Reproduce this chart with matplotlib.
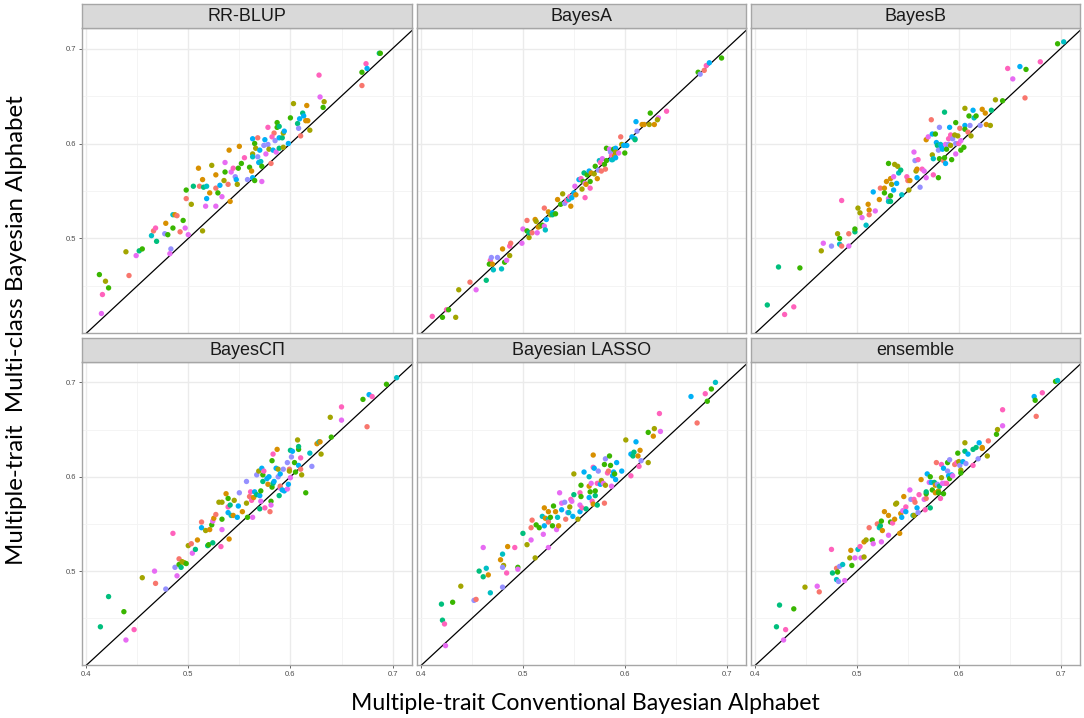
import matplotlib
matplotlib.use("Agg")
import matplotlib.pyplot as plt

# ggplot2 hue palette (10 groups), coded by letter
hue = ["#F8766D", "#D89000", "#A3A500", "#39B600", "#00BF7D",
       "#00BFC4", "#00B0F6", "#9590FF", "#E76BF3", "#FF62BC"]
codes = "roygtcbpmk"

# ---- RR-BLUP ----
rrblup_x = [0.413,0.416,0.419,0.422,0.415,0.439,0.442,0.449,0.452,0.455,
            0.464,0.466,0.468,0.469,0.477,0.478,0.480,0.485,0.485,0.487,
            0.489,0.483,0.482,0.492,0.495,0.497,0.500,0.498,0.498,0.503,
            0.505,0.510,0.511,0.514,0.515,0.518,0.518,0.517,0.514,0.521,
            0.523,0.527,0.527,0.529,0.527,0.531,0.533,0.535,0.536,0.536,
            0.540,0.539,0.541,0.542,0.544,0.546,0.547,0.548,0.549,0.552,
            0.550,0.555,0.558,0.560,0.563,0.563,0.562,0.563,0.565,0.563,
            0.566,0.565,0.568,0.568,0.569,0.570,0.571,0.572,0.572,0.575,
            0.574,0.576,0.578,0.578,0.579,0.581,0.583,0.584,0.582,0.585,
            0.586,0.587,0.587,0.589,0.589,0.589,0.592,0.593,0.594,0.593,
            0.598,0.600,0.603,0.607,0.608,0.609,0.610,0.612,0.613,0.615,
            0.616,0.617,0.619,0.628,0.629,0.633,0.632,0.670,0.670,0.674,
            0.675,0.687,0.688]
rrblup_y = [0.462,0.441,0.455,0.448,0.421,0.486,0.461,0.482,0.487,0.489,
            0.503,0.508,0.511,0.497,0.505,0.516,0.504,0.511,0.525,0.525,
            0.524,0.489,0.484,0.507,0.519,0.511,0.504,0.551,0.542,0.536,
            0.555,0.574,0.555,0.562,0.554,0.555,0.542,0.534,0.508,0.548,
            0.577,0.567,0.553,0.548,0.534,0.556,0.544,0.561,0.580,0.570,
            0.593,0.557,0.539,0.570,0.574,0.565,0.562,0.557,0.574,0.579,
            0.597,0.585,0.562,0.575,0.605,0.589,0.571,0.564,0.600,0.586,
            0.595,0.561,0.606,0.586,0.580,0.593,0.581,0.576,0.560,0.604,
            0.598,0.589,0.617,0.599,0.594,0.579,0.593,0.611,0.607,0.603,
            0.591,0.622,0.617,0.618,0.606,0.595,0.606,0.611,0.613,0.596,
            0.600,0.627,0.642,0.621,0.616,0.626,0.608,0.632,0.629,0.624,
            0.640,0.624,0.614,0.672,0.649,0.644,0.638,0.661,0.675,0.684,
            0.679,0.695,0.695]
rrblup_g = ("gkygmyrmtg" "crktpoggco" "rpmrgmmgry" "torotcbmyo" "yorgmbmymg"
            "oromkpbygg" "okpgbyobgc" "ygrpbbcgmb" "pmkpyrbrkp" "mggtbttyby"
            "bgytpbrtbo" "ooykmygrgk" "btg")

# ---- BayesA ----
bayesa_x = [0.411,0.421,0.425,0.427,0.434,0.437,0.448,0.454,0.464,0.468,
            0.469,0.467,0.470,0.471,0.475,0.479,0.480,0.482,0.484,0.487,
            0.487,0.488,0.499,0.500,0.504,0.504,0.506,0.506,0.509,0.512,
            0.513,0.514,0.515,0.517,0.519,0.521,0.522,0.521,0.523,0.525,
            0.527,0.529,0.529,0.532,0.534,0.537,0.539,0.541,0.543,0.545,
            0.547,0.546,0.548,0.550,0.551,0.552,0.558,0.561,0.555,0.557,
            0.559,0.560,0.561,0.562,0.563,0.565,0.566,0.566,0.567,0.570,
            0.571,0.573,0.574,0.575,0.576,0.577,0.578,0.580,0.581,0.582,
            0.582,0.585,0.586,0.587,0.587,0.588,0.589,0.590,0.591,0.591,
            0.591,0.594,0.596,0.597,0.599,0.600,0.602,0.607,0.610,0.610,
            0.612,0.611,0.617,0.619,0.624,0.625,0.629,0.633,0.632,0.641,
            0.672,0.674,0.678,0.680,0.683,0.695]
bayesa_y = [0.418,0.417,0.425,0.425,0.417,0.446,0.454,0.446,0.456,0.477,
            0.480,0.473,0.473,0.467,0.480,0.468,0.489,0.475,0.477,0.482,
            0.492,0.495,0.495,0.510,0.519,0.508,0.501,0.506,0.506,0.520,
            0.518,0.506,0.512,0.513,0.514,0.513,0.509,0.532,0.520,0.528,
            0.525,0.527,0.525,0.526,0.541,0.536,0.547,0.537,0.540,0.541,
            0.534,0.544,0.543,0.548,0.555,0.546,0.552,0.543,0.562,0.563,
            0.560,0.569,0.558,0.557,0.567,0.571,0.560,0.553,0.569,0.568,
            0.576,0.563,0.572,0.582,0.580,0.571,0.584,0.578,0.573,0.582,
            0.595,0.594,0.591,0.583,0.587,0.583,0.594,0.587,0.595,0.591,
            0.585,0.590,0.607,0.599,0.598,0.590,0.598,0.607,0.605,0.604,
            0.613,0.623,0.620,0.620,0.620,0.632,0.620,0.627,0.625,0.634,
            0.675,0.673,0.677,0.682,0.685,0.690]
bayesa_g = ("kgkgyyrmtk" "pgocpcogmy" "krmmrgytro" "ymoygmcrbo" "ybtgogypkc"
            "okbbmoykbk" "gtmogbgkoy" "gopckrmgrg" "gmpbkcgoby" "bmrybgbbbt"
            "pbooygomyk" "gprkbg")

# ---- BayesB ----
bayesb_x = [0.412,0.429,0.438,0.423,0.444,0.465,0.467,0.475,0.481,0.483,
            0.483,0.485,0.492,0.492,0.498,0.498,0.485,0.501,0.503,0.505,
            0.509,0.511,0.512,0.512,0.518,0.516,0.522,0.523,0.527,0.527,
            0.529,0.531,0.531,0.531,0.533,0.533,0.533,0.534,0.536,0.537,
            0.540,0.536,0.539,0.541,0.543,0.544,0.549,0.550,0.551,0.552,
            0.556,0.557,0.558,0.559,0.560,0.559,0.562,0.564,0.566,0.568,
            0.568,0.570,0.573,0.574,0.574,0.575,0.575,0.577,0.578,0.579,
            0.580,0.580,0.581,0.581,0.582,0.583,0.584,0.586,0.585,0.586,
            0.587,0.587,0.588,0.590,0.590,0.591,0.592,0.592,0.593,0.594,
            0.596,0.597,0.597,0.597,0.599,0.600,0.601,0.602,0.602,0.605,
            0.606,0.606,0.606,0.609,0.610,0.611,0.612,0.614,0.615,0.617,
            0.621,0.623,0.626,0.627,0.631,0.632,0.636,0.643,0.648,0.653,
            0.660,0.666,0.665,0.680,0.697,0.703]
bayesb_y = [0.430,0.420,0.428,0.470,0.469,0.487,0.495,0.492,0.505,0.500,
            0.494,0.492,0.492,0.505,0.507,0.510,0.540,0.532,0.527,0.522,
            0.514,0.536,0.530,0.525,0.529,0.549,0.541,0.553,0.553,0.548,
            0.560,0.579,0.542,0.539,0.539,0.545,0.563,0.557,0.565,0.578,
            0.576,0.551,0.558,0.569,0.572,0.546,0.565,0.561,0.551,0.561,
            0.591,0.582,0.571,0.573,0.583,0.564,0.554,0.573,0.571,0.604,
            0.564,0.607,0.625,0.610,0.588,0.584,0.567,0.610,0.601,0.598,
            0.564,0.593,0.584,0.617,0.599,0.597,0.594,0.633,0.582,0.585,
            0.599,0.579,0.594,0.599,0.605,0.617,0.609,0.598,0.583,0.605,
            0.609,0.622,0.589,0.600,0.608,0.600,0.616,0.593,0.603,0.596,
            0.619,0.637,0.615,0.612,0.629,0.619,0.608,0.635,0.627,0.629,
            0.619,0.636,0.632,0.620,0.619,0.635,0.646,0.645,0.679,0.668,
            0.681,0.678,0.648,0.686,0.705,0.707]
bayesb_g = ("tkktgympyg" "crmrtgkyym" "coormborog" "ogmctgoymy" "ybbctckryo"
            "mpyokbpkmo" "mmrbyckgbt" "gpgpcbbtrg" "mbgpkbkygp" "ygmpykrgmg"
            "bygrgpybcg" "poooytygkm" "bgrkgc")

# ---- BayesCPi ----
bayescpi_x = [0.414,0.422,0.439,0.447,0.437,0.455,0.467,0.468,0.478,0.485,
              0.487,0.489,0.491,0.491,0.493,0.494,0.496,0.498,0.500,0.503,
              0.504,0.507,0.509,0.513,0.513,0.517,0.519,0.520,0.521,0.523,
              0.524,0.524,0.525,0.527,0.530,0.533,0.533,0.532,0.533,0.537,
              0.539,0.539,0.539,0.540,0.541,0.542,0.544,0.545,0.548,0.550,
              0.549,0.553,0.557,0.557,0.558,0.560,0.561,0.562,0.563,0.564,
              0.565,0.567,0.567,0.569,0.570,0.570,0.571,0.571,0.572,0.573,
              0.573,0.574,0.575,0.577,0.578,0.579,0.580,0.581,0.581,0.582,
              0.583,0.582,0.583,0.584,0.586,0.587,0.588,0.588,0.589,0.590,
              0.590,0.590,0.592,0.593,0.594,0.597,0.597,0.598,0.599,0.599,
              0.600,0.600,0.601,0.602,0.604,0.605,0.607,0.608,0.608,0.608,
              0.610,0.610,0.611,0.615,0.619,0.621,0.626,0.628,0.629,0.630,
              0.640,0.639,0.650,0.650,0.671,0.675,0.677,0.680,0.694,0.704]
bayescpi_y = [0.441,0.473,0.427,0.438,0.457,0.493,0.500,0.487,0.481,0.540,
              0.504,0.495,0.513,0.507,0.504,0.510,0.509,0.508,0.527,0.529,
              0.519,0.523,0.533,0.552,0.546,0.543,0.527,0.528,0.544,0.549,
              0.530,0.553,0.556,0.560,0.573,0.573,0.544,0.526,0.555,0.582,
              0.577,0.568,0.562,0.534,0.570,0.559,0.559,0.575,0.557,0.583,
              0.569,0.563,0.595,0.572,0.557,0.579,0.584,0.575,0.557,0.578,
              0.584,0.602,0.581,0.606,0.580,0.566,0.585,0.574,0.609,0.602,
              0.595,0.606,0.567,0.598,0.592,0.600,0.563,0.574,0.570,0.617,
              0.624,0.589,0.593,0.595,0.609,0.629,0.608,0.600,0.580,0.588,
              0.590,0.603,0.586,0.608,0.585,0.615,0.587,0.592,0.608,0.606,
              0.599,0.628,0.621,0.627,0.615,0.605,0.639,0.629,0.632,0.612,
              0.608,0.620,0.602,0.583,0.625,0.611,0.635,0.637,0.637,0.624,
              0.642,0.663,0.674,0.660,0.682,0.653,0.687,0.685,0.698,0.705]
bayescpi_g = ("ttmkgymrpk" "pmrgtyygyr" "mtorbytgog" "tmoryymkgo" "gkbotcoybp"
              "bopygrkkmo" "bptybtgmbg" "tkkbobrgmg" "kgtbboyptm" "rbbpbpmbry"
              "mtpbggygtb" "rkygcpocoy" "gykmgrbkgc")

# ---- Bayesian LASSO ----
lasso_x = [0.420,0.421,0.423,0.424,0.431,0.439,0.452,0.454,0.457,0.461,
           0.461,0.464,0.466,0.468,0.478,0.480,0.481,0.480,0.480,0.484,
           0.485,0.492,0.495,0.495,0.500,0.504,0.508,0.508,0.509,0.512,
           0.513,0.516,0.519,0.520,0.521,0.521,0.522,0.525,0.525,0.525,
           0.525,0.527,0.529,0.530,0.532,0.533,0.534,0.535,0.536,0.538,
           0.538,0.541,0.542,0.544,0.545,0.546,0.547,0.548,0.550,0.550,
           0.549,0.554,0.556,0.556,0.556,0.557,0.557,0.558,0.560,0.562,
           0.565,0.565,0.565,0.566,0.567,0.568,0.569,0.569,0.569,0.570,
           0.571,0.571,0.573,0.573,0.574,0.576,0.577,0.579,0.580,0.580,
           0.581,0.581,0.583,0.584,0.585,0.586,0.587,0.588,0.589,0.590,
           0.591,0.592,0.597,0.601,0.606,0.606,0.608,0.609,0.611,0.613,
           0.614,0.615,0.616,0.623,0.623,0.628,0.629,0.634,0.635,0.665,
           0.671,0.679,0.681,0.685,0.689]
lasso_y = [0.465,0.448,0.444,0.421,0.467,0.484,0.469,0.470,0.500,0.494,
           0.525,0.503,0.496,0.477,0.512,0.518,0.506,0.504,0.483,0.498,
           0.526,0.525,0.504,0.502,0.540,0.528,0.533,0.546,0.554,0.514,
           0.549,0.546,0.558,0.539,0.548,0.567,0.556,0.525,0.555,0.563,
           0.552,0.557,0.548,0.569,0.563,0.544,0.557,0.548,0.583,0.572,
           0.565,0.573,0.555,0.562,0.562,0.568,0.576,0.574,0.581,0.603,
           0.558,0.555,0.583,0.570,0.563,0.591,0.579,0.567,0.605,0.566,
           0.590,0.600,0.578,0.584,0.593,0.574,0.571,0.623,0.610,0.609,
           0.580,0.585,0.570,0.593,0.606,0.592,0.596,0.593,0.613,0.572,
           0.619,0.591,0.604,0.606,0.622,0.612,0.590,0.601,0.605,0.603,
           0.597,0.615,0.606,0.639,0.601,0.624,0.622,0.626,0.637,0.622,
           0.611,0.628,0.617,0.647,0.615,0.643,0.651,0.667,0.648,0.685,
           0.657,0.688,0.680,0.693,0.700]
lasso_g = ("ttkmgyprtt" "mcococyppk" "okgmtymrry" "ggcmboomco" "rgggomcomm"
           "bprpcykmty" "bykmbggkbt" "ocbgmkookb" "tgtkpbymgr" "pykrggmbbg"
           "bbbykbttbo" "kopgyoykmb" "rkggc")

# ---- ensemble ----
ensemble_x = [0.421,0.424,0.430,0.428,0.438,0.449,0.461,0.463,0.475,0.476,
              0.480,0.481,0.483,0.480,0.482,0.486,0.488,0.493,0.494,0.495,
              0.498,0.501,0.503,0.504,0.507,0.507,0.509,0.512,0.515,0.516,
              0.520,0.522,0.523,0.524,0.525,0.524,0.527,0.531,0.531,0.533,
              0.535,0.537,0.538,0.539,0.542,0.543,0.544,0.545,0.548,0.548,
              0.546,0.552,0.553,0.555,0.556,0.556,0.557,0.559,0.560,0.561,
              0.563,0.566,0.567,0.568,0.568,0.568,0.569,0.571,0.572,0.572,
              0.573,0.574,0.576,0.577,0.577,0.578,0.579,0.580,0.580,0.581,
              0.582,0.583,0.583,0.584,0.585,0.585,0.586,0.588,0.589,0.589,
              0.590,0.591,0.591,0.593,0.594,0.596,0.598,0.599,0.600,0.601,
              0.602,0.602,0.604,0.606,0.606,0.607,0.609,0.614,0.614,0.617,
              0.619,0.620,0.623,0.623,0.628,0.629,0.637,0.638,0.643,0.643,
              0.674,0.675,0.676,0.682,0.695,0.697]
ensemble_y = [0.441,0.464,0.438,0.427,0.460,0.483,0.484,0.478,0.523,0.498,
              0.503,0.499,0.505,0.491,0.489,0.507,0.490,0.514,0.522,0.506,
              0.514,0.523,0.526,0.514,0.515,0.531,0.533,0.546,0.533,0.529,
              0.550,0.546,0.548,0.553,0.543,0.531,0.563,0.559,0.538,0.552,
              0.551,0.555,0.571,0.572,0.540,0.561,0.557,0.564,0.568,0.563,
              0.579,0.586,0.576,0.559,0.559,0.576,0.573,0.567,0.562,0.581,
              0.597,0.576,0.565,0.577,0.582,0.584,0.603,0.594,0.567,0.600,
              0.594,0.586,0.594,0.591,0.583,0.615,0.592,0.585,0.583,0.590,
              0.577,0.613,0.599,0.593,0.609,0.582,0.593,0.593,0.615,0.606,
              0.601,0.618,0.598,0.602,0.601,0.613,0.615,0.625,0.616,0.612,
              0.607,0.604,0.616,0.636,0.627,0.614,0.624,0.612,0.629,0.631,
              0.619,0.636,0.630,0.631,0.622,0.638,0.645,0.650,0.654,0.671,
              0.685,0.681,0.664,0.689,0.701,0.702]
ensemble_g = ("ttkmgymrkt" "rgpcpcmyog" "mckmyoyrgm" "rctgomoomg" "koyyoobmkb"
              "ompcykrbpk" "omkrgtbmtg" "bgtoorpygt" "kkymbgmkgp" "bpgbmrkgyp"
              "ygbytpbktt" "pbooyrgymk" "bgrkgc")

panels = [
    ("RR-BLUP", rrblup_x, rrblup_y, rrblup_g),
    ("BayesA", bayesa_x, bayesa_y, bayesa_g),
    ("BayesB", bayesb_x, bayesb_y, bayesb_g),
    ("BayesC\u03a0", bayescpi_x, bayescpi_y, bayescpi_g),
    ("Bayesian LASSO", lasso_x, lasso_y, lasso_g),
    ("ensemble", ensemble_x, ensemble_y, ensemble_g),
]

W, H = 1084, 718
fig = plt.figure(figsize=(W / 100, H / 100), dpi=100)

# pixel layout of the facet grid (left, right) and (strip top, panel top, panel bottom)
cols = [(82, 412), (417, 746), (751, 1080)]
rows = [(4, 28, 333), (338, 362, 665)]
border = "#A6A6A6"

for i, (title, xs, ys, gs) in enumerate(panels):
    r, c = divmod(i, 3)
    x0, x1 = cols[c]
    st, pt, pb = rows[r]

    ax = fig.add_axes([x0 / W, 1 - pb / H, (x1 - x0) / W, (pb - pt) / H])
    ax.set_xlim(0.396, 0.719)
    ax.set_ylim(0.4005, 0.7216)
    ax.set_xticks([0.4, 0.5, 0.6, 0.7])
    ax.set_yticks([0.5, 0.6, 0.7])
    ax.set_xticks([0.45, 0.55, 0.65], minor=True)
    ax.set_yticks([0.45, 0.55, 0.65], minor=True)
    ax.grid(which="major", color="#EBEBEB", lw=1.0)
    ax.grid(which="minor", color="#F3F3F3", lw=0.6)
    ax.set_axisbelow(True)
    for s in ax.spines.values():
        s.set_color(border)
        s.set_linewidth(1.0)

    ax.tick_params(which="minor", length=0)
    ax.tick_params(which="major", length=2.5, width=0.6, color="#4D4D4D",
                   labelsize=5.5, labelcolor="#4D4D4D", pad=1.5)
    for lab in ax.get_xticklabels() + ax.get_yticklabels():
        lab.set_family("Liberation Sans")
    if c != 0:
        ax.tick_params(axis="y", left=False, labelleft=False)
    if r != 1:
        ax.tick_params(axis="x", bottom=False, labelbottom=False)

    ax.axline((0.4, 0.4), slope=1, color="black", lw=0.9, zorder=2)
    colors = [hue[codes.index(g)] for g in gs]
    ax.scatter(xs, ys, c=colors, s=15, linewidths=0, zorder=3)

    sax = fig.add_axes([x0 / W, 1 - pt / H, (x1 - x0) / W, (pt - st) / H])
    sax.set_facecolor("#D9D9D9")
    sax.set_xticks([])
    sax.set_yticks([])
    for s in sax.spines.values():
        s.set_color(border)
        s.set_linewidth(1.0)
    sax.text(0.5, 0.47, title, ha="center", va="center", fontsize=13,
             family="Liberation Sans", color="#1A1A1A")

fig.text(17 / W, 1 - 330 / H, "Multiple-trait  Multi-class Bayesian Alphabet",
         rotation=90, ha="center", va="center", fontsize=17.3, family="Lato")
fig.text(585 / W, 1 - 703 / H, "Multiple-trait Conventional Bayesian Alphabet",
         ha="center", va="center", fontsize=16.6, family="Lato")

fig.savefig("out.png", dpi=100)
